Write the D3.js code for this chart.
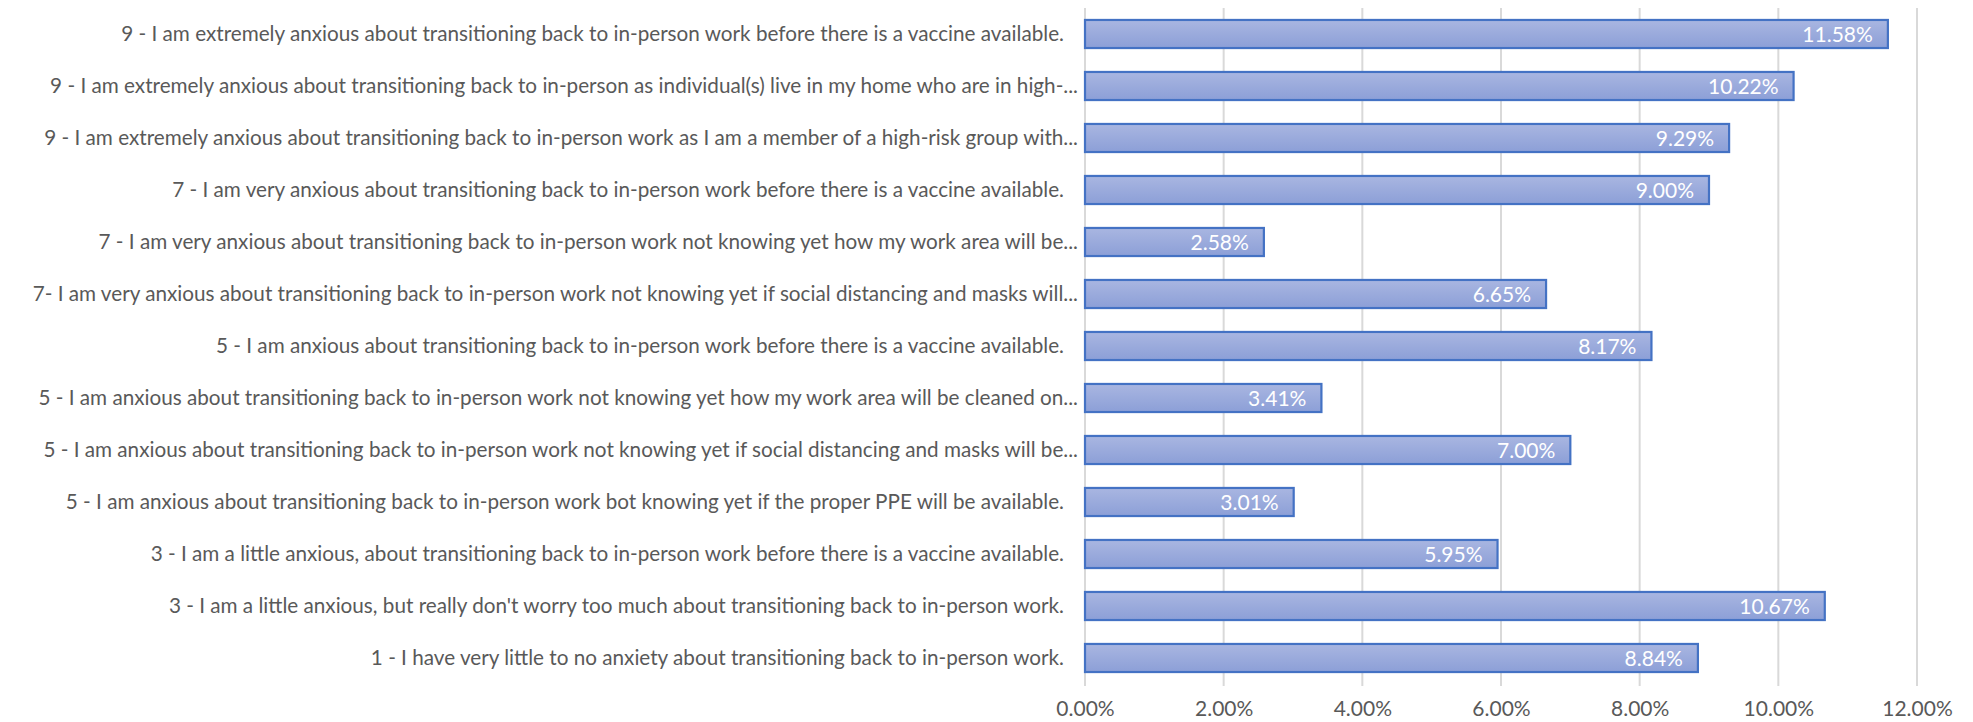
<!DOCTYPE html>
<html>
<head>
<meta charset="utf-8">
<script src="https://cdn.jsdelivr.net/npm/d3@7"></script>
<style>
  body { margin: 0; background: #fff; }
  svg text { font-family: Lato, "Open Sans", sans-serif; }
</style>
</head>
<body>
<div id="chart"></div>
<script>
// categories top to bottom, as shown in the chart
var categories = [
  "9 - I am extremely anxious about transitioning back to in-person work before there is a vaccine available.",
  "9 - I am extremely anxious about transitioning back to in-person as individual(s) live in my home who are in high-...",
  "9 - I am extremely anxious about transitioning back to in-person work as I am a member of a high-risk group with...",
  "7 - I am very anxious about transitioning back to in-person work before there is a vaccine available.",
  "7 - I am very anxious about transitioning back to in-person work not knowing yet how my work area will be...",
  "7- I am very anxious about transitioning back to in-person work not knowing yet if social distancing and masks will...",
  "5 - I am anxious about transitioning back to in-person work before there is a vaccine available.",
  "5 - I am anxious about transitioning back to in-person work not knowing yet how my work area will be cleaned on...",
  "5 - I am anxious about transitioning back to in-person work not knowing yet if social distancing and masks will be...",
  "5 - I am anxious about transitioning back to in-person work bot knowing yet if the proper PPE will be available.",
  "3 - I am a little anxious, about transitioning back to in-person work before there is a vaccine available.",
  "3 - I am a little anxious, but really don't worry too much about transitioning back to in-person work.",
  "1 - I have very little to no anxiety about transitioning back to in-person work."
]
var values = [0.1158, 0.1022, 0.0929, 0.0900, 0.0258, 0.0665, 0.0817, 0.0341, 0.0700, 0.0301, 0.0595, 0.1067, 0.0884]
var xTicks = [0, 0.02, 0.04, 0.06, 0.08, 0.10, 0.12]

var W = 1973, H = 722
var margin = {top: 8, right: 56, bottom: 38, left: 1085}
var width = W - margin.left - margin.right,
    height = H - margin.top - margin.bottom

var svg = d3.select("#chart")
  .append("svg")
  .attr("width", W)
  .attr("height", H)

var defs = svg.append("defs")
var grad = defs.append("linearGradient")
  .attr("id", "barGrad")
  .attr("x1", 0).attr("y1", 0).attr("x2", 0).attr("y2", 1)
grad.append("stop").attr("offset", "0%").attr("stop-color", "#a9b6e1")
grad.append("stop").attr("offset", "100%").attr("stop-color", "#8c9fd7")

var g = svg.append("g")
  .attr("transform", "translate(" + margin.left + "," + margin.top + ")")

var x = d3.scaleLinear()
  .domain([0, 0.12])
  .range([0, width])

var y = d3.scaleBand()
  .domain(categories)
  .range([0, height])
  .paddingInner(0.46)
  .paddingOuter(0.23)

// gridlines
g.append("g")
  .selectAll("line")
  .data(xTicks)
  .enter()
  .append("line")
  .attr("x1", d => x(d)).attr("x2", d => x(d))
  .attr("y1", 0).attr("y2", height + 2)
  .attr("stroke", "#d9d9d9")
  .attr("stroke-width", 2)

// x axis labels
var fmt = d3.format(".2%")
g.append("g")
  .attr("transform", "translate(0," + height + ")")
  .call(d3.axisBottom(x).tickValues(xTicks).tickFormat(fmt).tickSize(0).tickPadding(17))
  .call(ax => ax.select(".domain").remove())
  .selectAll("text")
  .attr("fill", "#595959")
  .style("font-family", "Lato, sans-serif")
  .style("font-size", "21px")

// bars
g.append("g")
  .selectAll("rect")
  .data(values)
  .enter()
  .append("rect")
  .attr("x", 0)
  .attr("y", (d, i) => y(categories[i]))
  .attr("width", d => x(d))
  .attr("height", y.bandwidth())
  .attr("fill", "url(#barGrad)")
  .attr("stroke", "#4472c4")
  .attr("stroke-width", 2.2)

// value labels
g.append("g")
  .selectAll("text")
  .data(values)
  .enter()
  .append("text")
  .attr("x", d => x(d) - 15)
  .attr("y", (d, i) => y(categories[i]) + y.bandwidth() / 2)
  .attr("dy", "0.36em")
  .attr("text-anchor", "end")
  .attr("fill", "#ffffff")
  .style("font-size", "21px")
  .text(d => fmt(d))

// category labels
g.append("g")
  .selectAll("text")
  .data(categories)
  .enter()
  .append("text")
  .attr("x", d => d.endsWith("...") ? -7 : -21)
  .attr("y", d => y(d) + y.bandwidth() / 2)
  .attr("dy", "0.36em")
  .attr("text-anchor", "end")
  .attr("fill", "#595959")
  .style("font-size", "20.7px")
  .text(d => d)
</script>
</body>
</html>
